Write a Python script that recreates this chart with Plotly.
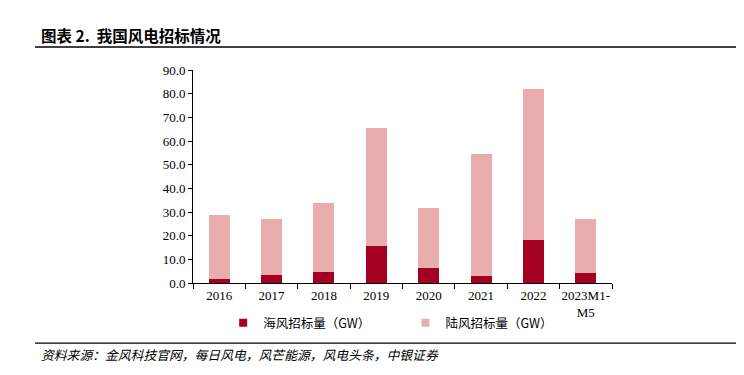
import plotly.graph_objects as go

categories = ["2016", "2017", "2018", "2019", "2020", "2021", "2022", "2023M1-<br>M5"]
offshore = [1.9, 3.4, 4.8, 15.6, 6.2, 2.9, 18.2, 4.4]
totals = [28.7, 27.0, 33.7, 65.5, 31.5, 54.4, 82.0, 27.2]
onshore = [round(t - o, 1) for t, o in zip(totals, offshore)]
yticks = [0, 10, 20, 30, 40, 50, 60, 70, 80, 90]
names = ["海风招标量（GW）", "陆风招标量（GW）"]
colors = ["#A50021", "#E9ADAD"]

serif = "Liberation Serif"
cjk = "Noto Sans CJK SC"

fig = go.Figure()
fig.add_trace(go.Bar(x=categories, y=offshore, name=names[0], showlegend=False,
                     marker=dict(color=colors[0], line=dict(width=0))))
fig.add_trace(go.Bar(x=categories, y=onshore, name=names[1], showlegend=False,
                     marker=dict(color=colors[1], line=dict(width=0))))
# legend entries with small square markers
fig.add_trace(go.Scatter(x=[None], y=[None], mode="markers", name=names[0], legend="legend",
                         marker=dict(symbol="square", size=8, color=colors[0])))
fig.add_trace(go.Scatter(x=[None], y=[None], mode="markers", name=names[1], legend="legend2",
                         marker=dict(symbol="square", size=8, color=colors[1])))

legend_common = dict(orientation="h", y=-0.188, yanchor="middle", xanchor="left",
                     font=dict(family=cjk, size=12.5, color="#000"), itemwidth=30,
                     bgcolor="rgba(0,0,0,0)")

fig.update_layout(
    barmode="stack",
    bargap=0.6,
    width=736, height=367,
    margin=dict(l=185, r=132, t=62, b=92, autoexpand=False),
    plot_bgcolor="white", paper_bgcolor="white",
    showlegend=True,
    legend=dict(x=0.072, **legend_common),
    legend2=dict(x=0.507, **legend_common),
    xaxis=dict(type="category", showline=True, linecolor="#000", linewidth=1,
               ticks="outside", tickson="boundaries", ticklen=5, tickcolor="#000",
               tickangle=0, automargin=False,
               tickfont=dict(family=serif, size=13, color="#000"), showgrid=False),
    yaxis=dict(range=[0, 90], tickvals=yticks, tickformat=".1f", showline=True,
               linecolor="#000", linewidth=1, ticks="outside", ticklen=4, tickcolor="#000",
               automargin=False,
               tickfont=dict(family=serif, size=13, color="#000"), showgrid=False,
               zeroline=False),
    font=dict(family=serif, color="#000"),
)

fig.add_annotation(text="<b>图表 2.  我国风电招标情况</b>", xref="paper", yref="paper",
                   x=-0.367, y=1.164, xanchor="left", yanchor="middle", showarrow=False,
                   font=dict(family=cjk, size=15.5, color="#000"))
fig.add_shape(type="line", xref="paper", yref="paper", x0=-0.377, x1=1.315, y0=1.108, y1=1.108,
              line=dict(color="#000", width=1.3))
fig.add_shape(type="line", xref="paper", yref="paper", x0=-0.377, x1=1.315, y0=-0.282, y1=-0.282,
              line=dict(color="#000", width=1.3))
fig.add_annotation(text="<i>资料来源：金风科技官网，每日风电，风芒能源，风电头条，中银证券</i>",
                   xref="paper", yref="paper", x=-0.367, y=-0.338, xanchor="left", yanchor="middle",
                   showarrow=False, font=dict(family=cjk, size=12.8, color="#000"))

fig.write_html("out.html")
